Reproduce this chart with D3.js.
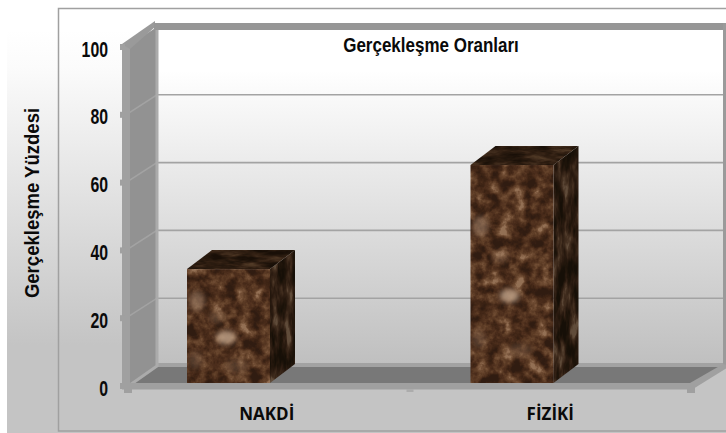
<!DOCTYPE html>
<html><head><meta charset="utf-8">
<script src="https://cdn.jsdelivr.net/npm/d3@7"></script>
<style>html,body{margin:0;padding:0;background:#fff}svg{display:block}text{font-family:"Liberation Sans",Arial,sans-serif;font-weight:bold;fill:#0a0a0a}</style>
</head><body><div id="c"></div>
<script>
const categories = ["NAKDİ", "FİZİKİ"];
const values = [33.6, 64.3];
const yTicks = [0, 20, 40, 60, 80, 100];
const chartTitle = "Gerçekleşme Oranları";
const yTitle = "Gerçekleşme Yüzdesi";

const W = 726, H = 433, DX = 31, DY = -20;
const x = d3.scaleBand().domain(categories).range([126, 693]);
const y = d3.scaleLinear().domain([0, 100]).range([386, 47]);
const svg = d3.select("#c").append("svg").attr("width", W).attr("height", H);
const defs = svg.append("defs");

function vGrad(id, stops, y1, y2) {
  const g = defs.append("linearGradient").attr("id", id).attr("gradientUnits", "userSpaceOnUse")
    .attr("x1", 0).attr("x2", 0).attr("y1", y1).attr("y2", y2);
  stops.forEach(s => g.append("stop").attr("offset", s[0]).attr("stop-color", s[1]));
}
vGrad("bg", [[0, "#ffffff"], [0.12, "#fbfbfb"], [1, "#c4c4c4"]], 30, 345);
vGrad("wall", [[0, "#ffffff"], [0.12, "#ffffff"], [1, "#bfbfbf"]], 30, 366);

function marble(id, seed, tv, fx, fy) {
  const f = defs.append("filter").attr("id", id).attr("x", "-5%").attr("y", "-5%").attr("width", "110%").attr("height", "110%")
    .attr("color-interpolation-filters", "sRGB");
  f.append("feTurbulence").attr("type", "fractalNoise").attr("baseFrequency", fx + " " + fy)
    .attr("numOctaves", 4).attr("seed", seed).attr("result", "n");
  f.append("feColorMatrix").attr("in", "n").attr("type", "matrix")
    .attr("values", "1.7 1.0 0 0 -.92  1.7 1.0 0 0 -.92  1.7 1.0 0 0 -.92  0 0 0 0 1").attr("result", "g");
  const t = f.append("feComponentTransfer").attr("in", "g").attr("result", "c");
  ["R", "G", "B"].forEach((k, i) => t.append("feFunc" + k).attr("type", "table").attr("tableValues", tv[i]));
  f.append("feGaussianBlur").attr("in", "c").attr("stdDeviation", 0.6).attr("result", "b");
  f.append("feComposite").attr("in", "b").attr("in2", "SourceAlpha").attr("operator", "in");
}
marble("mFront", 7, ["0.19 0.24 0.30 0.37 0.45 0.58", "0.11 0.14 0.18 0.24 0.31 0.44", "0.07 0.08 0.11 0.15 0.21 0.33"], 0.08, 0.08);
marble("mSide", 11, ["0.09 0.12 0.16 0.21 0.27 0.38", "0.06 0.08 0.10 0.14 0.19 0.30", "0.03 0.04 0.06 0.09 0.13 0.23"], 0.14, 0.035);
marble("mTop", 5, ["0.10 0.14 0.19 0.25 0.32", "0.06 0.09 0.12 0.17 0.23", "0.03 0.05 0.07 0.11 0.15"], 0.04, 0.16);
defs.append("filter").attr("id", "soft").attr("x", "-60%").attr("y", "-60%").attr("width", "220%").attr("height", "220%")
  .append("feGaussianBlur").attr("stdDeviation", 2.6);

const poly = pts => "M" + pts.map(p => p.join(",")).join("L") + "Z";
const xL = x.range()[0], xR = x.range()[1];

// page background and frame
svg.append("rect").attr("x", 7).attr("y", 0).attr("width", W - 7).attr("height", H).attr("fill", "url(#bg)");
svg.append("path").attr("d", "M726,8.5H58.5V431H726").attr("fill", "none").attr("stroke", "#a0a0a0").attr("stroke-width", 1.5);

// back wall
svg.append("rect").attr("x", xL + DX - 1).attr("y", y(100) + DY).attr("width", xR - xL + 1).attr("height", y(0) - y(100))
  .attr("fill", "url(#wall)");
// floor
svg.append("path").attr("d", poly([[xL, y(0)], [xL + DX, y(0) + DY], [xR + DX, y(0) + DY], [xR, y(0)]])).attr("fill", "#787878");
svg.append("rect").attr("x", xL + DX).attr("y", y(0) + DY - 3).attr("width", xR - xL).attr("height", 4).attr("fill", "#a2a2a2");
// left wall
svg.append("path").attr("d", poly([[xL, y(100)], [xL + DX, y(100) + DY], [xL + DX, y(0) + DY], [xL, y(0)]])).attr("fill", "#929292");
// gridlines
yTicks.slice(1, -1).forEach(t => {
  svg.append("path").attr("d", `M${xL + 3},${y(t) - 2}L${xL + DX},${y(t) + DY}H${xR + DX}`)
    .attr("fill", "none").attr("stroke", "#a3a3a3").attr("stroke-width", 1.6);
});
// wall edges
svg.append("path").attr("d", `M${xL + DX},${y(100) + DY}V${y(0) + DY}L${xL + 4},${y(0) - 1}`)
  .attr("fill", "none").attr("stroke", "#ababab").attr("stroke-width", 3);
svg.append("rect").attr("x", xL - 4).attr("y", y(100) - 3).attr("width", 8).attr("height", y(0) - y(100) + 6).attr("fill", "#a0a0a0");
svg.append("path").attr("d", poly([[xL - 4, y(100) - 3], [xL + DX - 2, y(100) + DY - 6], [xL + DX - 2, y(100) + DY], [xL + 4, y(100) + 2]])).attr("fill", "#9a9a9a");
svg.append("rect").attr("x", xL + DX - 3).attr("y", y(100) + DY - 4).attr("width", xR - xL + 14).attr("height", 7).attr("fill", "#969696");
svg.append("rect").attr("x", xR + DX - 1).attr("y", y(100) + DY - 4).attr("width", 7).attr("height", y(0) - y(100) + 5).attr("fill", "#9a9a9a");
svg.append("path").attr("d", poly([[xR - 3, y(0) - 3], [xR + DX - 1, y(0) + DY - 2], [xR + DX + 6, y(0) + DY], [xR, y(0) + 3]])).attr("fill", "#a0a0a0");
svg.append("rect").attr("x", xL - 4).attr("y", y(0) - 3).attr("width", xR - xL + 6).attr("height", 6.5).attr("fill", "#a0a0a0");

// axis ticks and labels
const axisG = svg.append("g");
axisG.selectAll("rect.t").data(yTicks).join("rect").attr("class", "t")
  .attr("x", xL - 6).attr("y", d => y(d) - 3).attr("width", 5).attr("height", 6).attr("fill", "#a0a0a0");
svg.append("rect").attr("x", xL - 2).attr("y", y(0)).attr("width", 8).attr("height", 7).attr("fill", "#a0a0a0");
svg.append("rect").attr("x", xR - 6).attr("y", y(0)).attr("width", 8).attr("height", 7).attr("fill", "#a0a0a0");
svg.append("rect").attr("x", xL + x.step() - 3).attr("y", y(0) + 3).attr("width", 7).attr("height", 3).attr("fill", "#acacac");

axisG.selectAll("text.y").data(yTicks).join("text").attr("class", "y")
  .attr("text-anchor", "end").attr("font-size", 18)
  .attr("transform", d => `translate(108,${y(d) + 9.5}) scale(.88,1.24)`)
  .text(d => d);

// bars
const barW = 83, barOffset = 61, bDX = 25, bDY = -19;
const barG = svg.selectAll("g.bar").data(categories.map((c, i) => ({ c, v: values[i] }))).join("g").attr("class", "bar");
barG.each(function (d, i) {
  const g = d3.select(this);
  const x0 = x(d.c) + barOffset, x1 = x0 + barW;
  const yb = y(0) - 3, yt = y(d.v) - 3;
  g.append("path").attr("d", poly([[x1, yb], [x1 + bDX, yb + bDY], [x1 + bDX, yt + bDY], [x1, yt]])).attr("fill", "#000").attr("filter", "url(#mSide)");
  g.append("path").attr("d", poly([[x0, yt], [x1, yt], [x1 + bDX, yt + bDY], [x0 + bDX, yt + bDY]])).attr("fill", "#000").attr("filter", "url(#mTop)");
  g.append("rect").attr("x", x0).attr("y", yt).attr("width", barW).attr("height", yb - yt).attr("fill", "#000").attr("filter", "url(#mFront)");
  const cid = "clip" + i;
  defs.append("clipPath").attr("id", cid).append("rect").attr("x", x0).attr("y", yt).attr("width", barW).attr("height", yb - yt);
  const spots = g.append("g").attr("clip-path", `url(#${cid})`).append("g").attr("filter", "url(#soft)");
  const h = yb - yt;
  [[.47, .60, 10, 7, "#c4a68c", .8], [.12, .28, 8, 10, "#a98b74", .5], [.36, .42, 8, 6, "#a38468", .35], [.6, .85, 12, 7, "#9b7a60", .3], [.1, .8, 7, 9, "#a0806a", .3]]
    .forEach(s => spots.append("ellipse").attr("cx", x0 + s[0] * barW).attr("cy", yt + s[1] * h)
      .attr("rx", s[2]).attr("ry", s[3]).attr("fill", s[4]).attr("opacity", s[5]));
});

// labels
svg.append("g").selectAll("text").data(categories).join("text")
  .attr("text-anchor", "middle").attr("font-size", 17)
  .attr("transform", d => `translate(${x(d) + x.bandwidth() / 2 - 1},${y(0) + 34}) scale(1,1.07)`)
  .style("font-family", "'Open Sans',sans-serif").text(d => d);
svg.append("text").attr("text-anchor", "middle").attr("font-size", 17)
  .attr("transform", "translate(431,52) scale(1,1.2)").text(chartTitle);
svg.append("text").attr("text-anchor", "middle").attr("font-size", 18)
  .attr("transform", "translate(39,203) rotate(-90) scale(1.03,1.08)").text(yTitle);
</script></body></html>
